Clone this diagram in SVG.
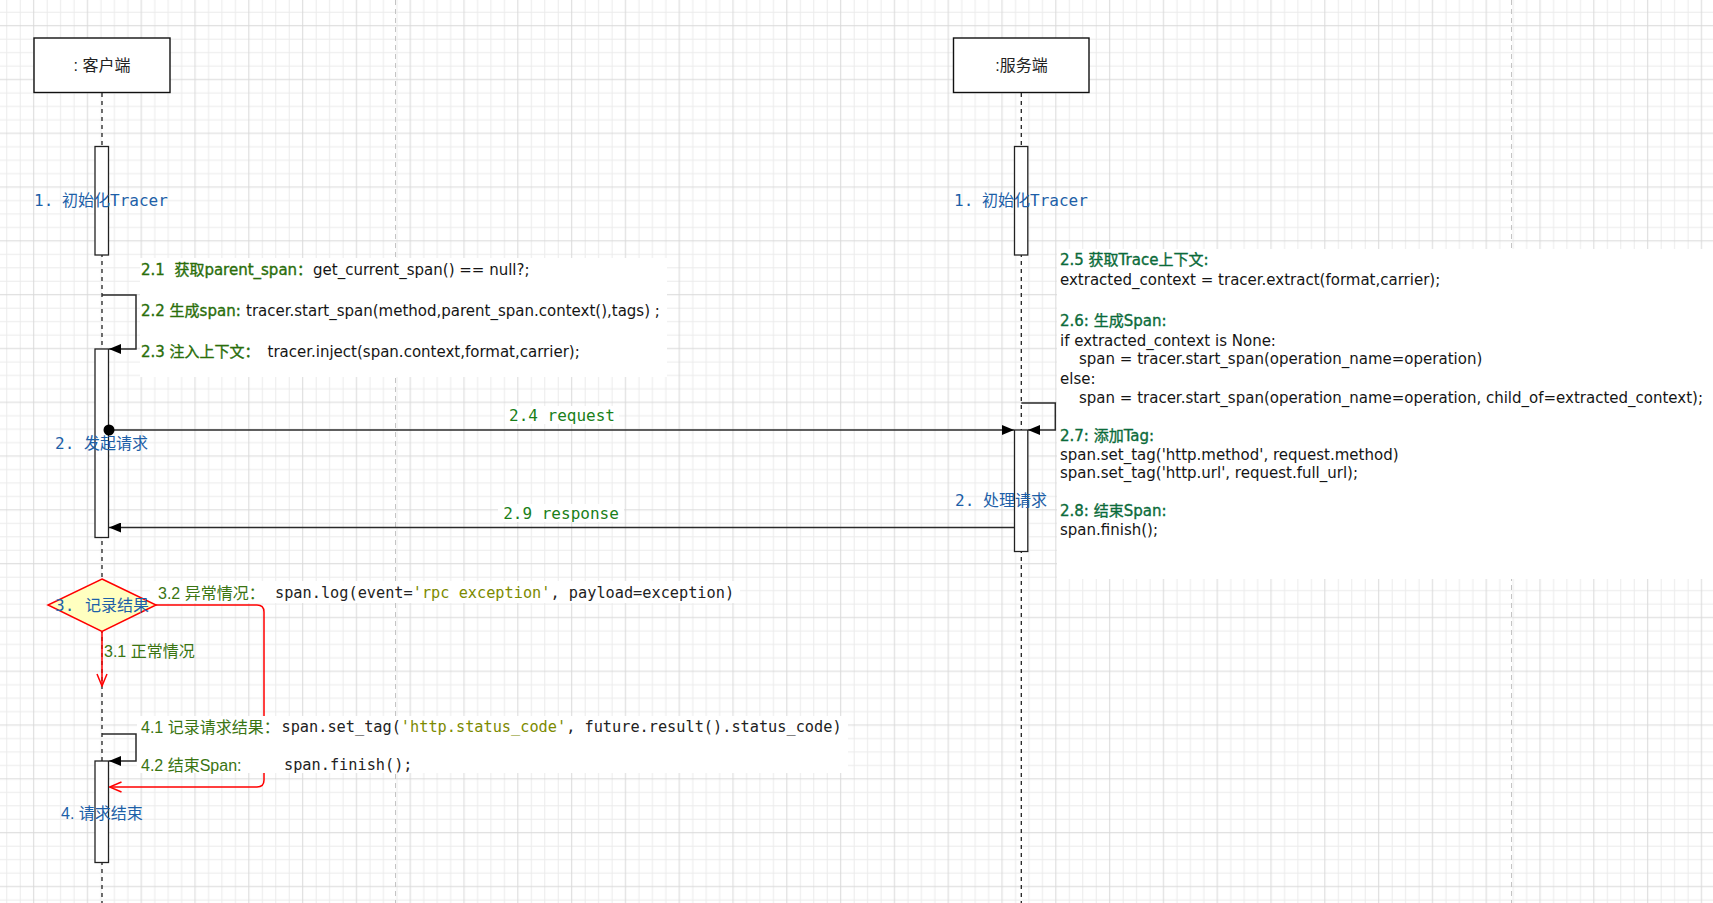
<svg xmlns="http://www.w3.org/2000/svg" width="1713" height="903" viewBox="0 0 1713 903">
<style>
text{white-space:pre}
.life{stroke:#222;stroke-width:1.3;stroke-dasharray:4 4;fill:none}
.act{fill:#fff;stroke:#222;stroke-width:1.3}
.box{fill:#fff;stroke:#111;stroke-width:1.4}
.msg{stroke:#2a2a2a;stroke-width:1.5;fill:none}
.red{stroke:#f00;stroke-width:1.5;fill:none}
.page{stroke:#c4c4c4;stroke-dasharray:5 4;stroke-width:1}
.bg{fill:#fff}
.blue{font-family:"DejaVu Sans Mono","Noto Sans CJK SC",monospace;font-size:16px;fill:#1d5fa8}
.bluesans{font-family:"Liberation Sans","Noto Sans CJK SC",sans-serif;font-size:16px;fill:#1d5fa8}
.mono{font-family:"DejaVu Sans Mono","Noto Sans CJK SC",monospace;font-size:15.25px;fill:#222}
.lbl{font-family:"DejaVu Sans Mono","Noto Sans CJK SC",monospace;font-size:16px;fill:#1a7f1a}
.code{font-family:"DejaVu Sans","Noto Sans CJK SC",sans-serif;font-size:15px;fill:#151515}
.sans{font-family:"Liberation Sans","Noto Sans CJK SC",sans-serif;font-size:16px}
.actor{font-family:"Liberation Sans","Noto Sans CJK SC",sans-serif;font-size:16px;fill:#222}
.g1{fill:#2a6e0a;stroke:#2a6e0a;stroke-width:0.35}
.g2{fill:#0b6b3a;stroke:#0b6b3a;stroke-width:0.35}
.g3{fill:#3a7512}
.str{fill:#7c8a00}
</style>
<defs>
<pattern id="grid" patternUnits="userSpaceOnUse" x="27" y="19" width="53.8" height="53.8">
<path d="M20.15 0V53.8M33.6 0V53.8M47.05 0V53.8M0 20.15H53.8M0 33.6H53.8M0 47.05H53.8" stroke="#ebebeb" stroke-width="1" fill="none"/>
<path d="M6.7 0V53.8M0 6.7H53.8" stroke="#d9d9d9" stroke-width="1" fill="none"/>
</pattern>
<marker id="block" viewBox="0 0 12 10" refX="12" refY="5" markerWidth="12" markerHeight="10" markerUnits="userSpaceOnUse" orient="auto"><path d="M0 0L12 5L0 10z" fill="#000"/></marker>
<marker id="open" viewBox="0 0 14 12" refX="13" refY="6" markerWidth="14" markerHeight="12" markerUnits="userSpaceOnUse" orient="auto"><path d="M1 1L13 6L1 11" fill="none" stroke="#f00" stroke-width="1.5"/></marker>
</defs>
<rect width="1713" height="903" fill="#fff"/>
<rect width="1713" height="903" fill="url(#grid)"/>
<g id="page-breaks">
<line class="page" x1="395.5" y1="0" x2="395.5" y2="903"/>
<line class="page" x1="1511.5" y1="0" x2="1511.5" y2="903"/>
</g>
<g id="lifelines">
<line class="life" x1="102" y1="93" x2="102" y2="903"/>
<line class="life" x1="1021.3" y1="93" x2="1021.3" y2="903"/>
</g>
<g id="client">
<rect class="box" x="34" y="38" width="136" height="54.5"/>
<text class="actor" x="102" y="65" text-anchor="middle" dominant-baseline="central">: 客户端</text>
</g>
<g id="server">
<rect class="box" x="953.5" y="38" width="135.5" height="54.5"/>
<text class="actor" x="1021.5" y="65" text-anchor="middle" dominant-baseline="central">:服务端</text>
</g>
<g id="client-init"><rect class="act" x="95" y="146.5" width="13.5" height="108.5"/></g>
<g id="server-init"><rect class="act" x="1014.5" y="146.5" width="13.3" height="108.5"/></g>
<g id="client-request"><rect class="act" x="95" y="349" width="13.5" height="188.5"/></g>
<g id="server-handle"><rect class="act" x="1014.5" y="430" width="13.3" height="121.5"/></g>
<g id="client-end"><rect class="act" x="95" y="761" width="13.5" height="101.5"/></g>
<g id="connectors">
<path class="msg" d="M102 295H136V349H109" marker-end="url(#block)"/>
<path class="msg" d="M109 430H1014" marker-end="url(#block)"/>
<circle cx="109" cy="430" r="5.5" fill="#000"/>
<path class="msg" d="M1021.3 403H1055.3V430H1028" marker-end="url(#block)"/>
<path class="msg" d="M1014 527.5H109" marker-end="url(#block)"/>
<path class="red" d="M102 632V686" marker-end="url(#open)"/>
<path class="red" d="M156 605H257Q264 605 264 612V780Q264 787 257 787H109.5" marker-end="url(#open)"/>
<path class="msg" d="M102 734H136V761H109" marker-end="url(#block)"/>
</g>
<g id="label-backgrounds">
<rect class="bg" x="140" y="258" width="527" height="119"/>
<rect class="bg" x="1057" y="249" width="656" height="330"/>
<rect class="bg" x="150" y="581" width="590" height="22"/>
<rect class="bg" x="137" y="716" width="711" height="57"/>
<rect class="bg" x="505" y="406" width="114" height="18"/>
<rect class="bg" x="498" y="504" width="126" height="18"/>
</g>
<g id="decision"><path d="M102 579L156 605L102 631.5L48 605Z" fill="#ffffc0" stroke="#f00" stroke-width="1.5"/></g>
<g id="labels" dominant-baseline="central">
<text class="blue" x="34" y="200">1.<tspan x="62">初始化Tracer</tspan></text>
<text class="blue" x="954" y="200">1.<tspan x="982">初始化Tracer</tspan></text>
<text class="blue" x="55" y="443">2.<tspan x="84">发起请求</tspan></text>
<text class="blue" x="955" y="500">2.<tspan x="983">处理请求</tspan></text>
<text class="blue" x="55" y="605">3.<tspan x="85">记录结果</tspan></text>
<text class="bluesans" x="61" y="813">4. 请求结束</text>
<text class="lbl" x="562" y="415" text-anchor="middle">2.4 request</text>
<text class="lbl" x="561" y="513" text-anchor="middle">2.9 response</text>
<text class="code" x="141" y="270"><tspan class="g1">2.1  获取parent_span：</tspan><tspan x="313">get_current_span() == null?;</tspan></text>
<text class="code" x="141" y="311"><tspan class="g1">2.2 生成span:</tspan><tspan x="246">tracer.start_span(method,parent_span.context(),tags) ;</tspan></text>
<text class="code" x="141" y="352"><tspan class="g1">2.3 注入上下文：</tspan><tspan x="267.5">tracer.inject(span.context,format,carrier);</tspan></text>
<text class="code g2" x="1060" y="260">2.5 获取Trace上下文:</text>
<text class="code" x="1060" y="280">extracted_context = tracer.extract(format,carrier);</text>
<text class="code g2" x="1060" y="321">2.6: 生成Span:</text>
<text class="code" x="1060" y="341">if extracted_context is None:</text>
<text class="code" x="1079" y="359">span = tracer.start_span(operation_name=operation)</text>
<text class="code" x="1060" y="379">else:</text>
<text class="code" x="1079" y="398">span = tracer.start_span(operation_name=operation, child_of=extracted_context);</text>
<text class="code g2" x="1060" y="436">2.7: 添加Tag:</text>
<text class="code" x="1060" y="455">span.set_tag('http.method', request.method)</text>
<text class="code" x="1060" y="473">span.set_tag('http.url', request.full_url);</text>
<text class="code g2" x="1060" y="511">2.8: 结束Span:</text>
<text class="code" x="1060" y="530">span.finish();</text>
<text class="sans g3" x="158" y="593">3.2 异常情况：</text>
<text class="mono" x="275" y="593">span.log(event=<tspan class="str">'rpc exception'</tspan>, payload=exception)</text>
<text class="sans g3" x="104" y="651">3.1 正常情况</text>
<text class="sans g3" x="141" y="727">4.1 记录请求结果：</text>
<text class="mono" x="281.5" y="727">span.set_tag(<tspan class="str">'http.status_code'</tspan>, future.result().status_code)</text>
<text class="sans g3" x="141" y="765">4.2 结束Span:</text>
<text class="mono" x="284" y="765">span.finish();</text>
</g>
</svg>
